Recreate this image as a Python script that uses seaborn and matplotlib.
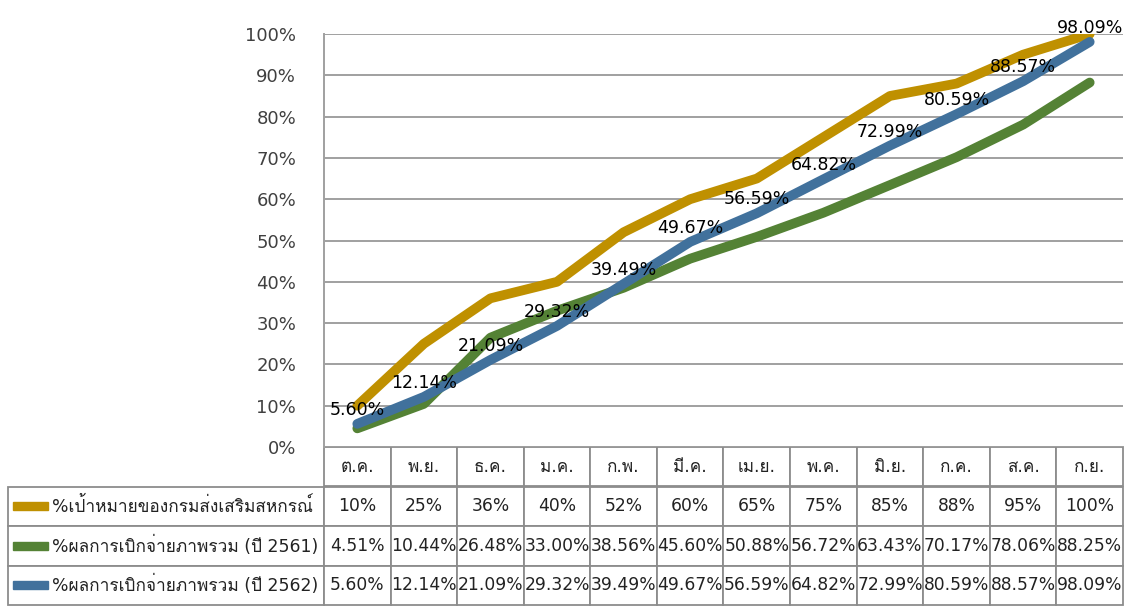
import matplotlib
matplotlib.use('Agg')
import matplotlib.pyplot as plt
import seaborn as sns
import pandas as pd
from matplotlib import font_manager, ft2font
from matplotlib.patches import Rectangle

# data
months = ['ต.ค.', 'พ.ย.', 'ธ.ค.', 'ม.ค.', 'ก.พ.', 'มี.ค.', 'เม.ย.', 'พ.ค.', 'มิ.ย.', 'ก.ค.', 'ส.ค.', 'ก.ย.']
series_names = ['%เป้าหมายของกรมส่งเสริมสหกรณ์',
                '%ผลการเบิกจ่ายภาพรวม (ปี 2561)',
                '%ผลการเบิกจ่ายภาพรวม (ปี 2562)']
target = [10, 25, 36, 40, 52, 60, 65, 75, 85, 88, 95, 100]
result_2561 = [4.51, 10.44, 26.48, 33.00, 38.56, 45.60, 50.88, 56.72, 63.43, 70.17, 78.06, 88.25]
result_2562 = [5.60, 12.14, 21.09, 29.32, 39.49, 49.67, 56.59, 64.82, 72.99, 80.59, 88.57, 98.09]
colors = ['#BF9000', '#548235', '#41719C']


def thai_font():
    for f in font_manager.fontManager.ttflist:
        try:
            if ord('ก') in ft2font.FT2Font(f.fname).get_charmap():
                return f.name
        except Exception:
            pass
    return None


sns.set_style('white')
fam = ['DejaVu Sans']
tf = thai_font()
if tf:
    fam.append(tf)
plt.rcParams['font.family'] = fam

df = pd.DataFrame({
    'month': months * 3,
    'value': target + result_2561 + result_2562,
    'series': [series_names[0]] * 12 + [series_names[1]] * 12 + [series_names[2]] * 12,
})

fig = plt.figure(figsize=(11.39, 6.07), dpi=100)
ax = fig.add_axes([324 / 1139, 160 / 607, 799 / 1139, 413 / 607])

sns.lineplot(data=df, x='month', y='value', hue='series', palette=colors,
             linewidth=7, sort=False, legend=False, ax=ax)

# data labels for the 2562 series
for i, v in enumerate(result_2562):
    ax.annotate(f'{v:.2f}%', (i, v), xytext=(0, 10), textcoords='offset points',
                ha='center', va='center', fontsize=12.5, color='black')

ax.set_xlim(-0.5, len(months) - 0.5)
ax.set_ylim(0, 100)
ax.set_yticks(range(0, 101, 10))
ax.set_yticklabels([f'{t}%' for t in range(0, 101, 10)], fontsize=13, color='#404040')
ax.tick_params(axis='y', length=0, pad=20)
ax.set_xticks([])
ax.set_xlabel('')
ax.set_ylabel('')
ax.grid(axis='y', color='#a0a0a0', linewidth=1.4)
ax.set_axisbelow(True)
for s in ['top', 'right', 'bottom']:
    ax.spines[s].set_visible(False)
ax.spines['left'].set_color('#a0a0a0')
ax.spines['left'].set_linewidth(1.4)

# data table under the plot
label_w = 316
col_w = 799 / 12
rows = [[''] + months]
rows.append([series_names[0]] + [f'{v:g}%' for v in target])
rows.append([series_names[1]] + [f'{v:.2f}%' for v in result_2561])
rows.append([series_names[2]] + [f'{v:.2f}%' for v in result_2562])

left = (8 - 324) / 799
width = 1 - left
height = 158 / 413
tbl = ax.table(cellText=rows, colWidths=[label_w] + [col_w] * 12,
               cellLoc='center', bbox=[left, -height, width, height])
tbl.auto_set_font_size(False)
tbl.set_fontsize(12.3)
for (r, c), cell in tbl.get_celld().items():
    cell.set_edgecolor('#8c8c8c')
    cell.set_linewidth(1.3)
    cell.get_text().set_color('#222222')
    if r == 0 and c == 0:
        cell.visible_edges = ''
    if c == 0 and r > 0:
        cell.get_text().set_ha('left')
        cell._loc = 'left'
        cell.PAD = 0.14
        cell.get_text().set_fontsize(12.4)
        cell.get_text().set_clip_on(False)

# legend keys in the table
row_h = height / 4
for k, col in enumerate(colors):
    yc = -(k + 1.5) * row_h
    ax.add_patch(Rectangle((left + 5 / 799, yc - 4 / 413), 35 / 799, 8 / 413,
                           transform=ax.transAxes, color=col, clip_on=False))

fig.savefig('out.png', dpi=100)
